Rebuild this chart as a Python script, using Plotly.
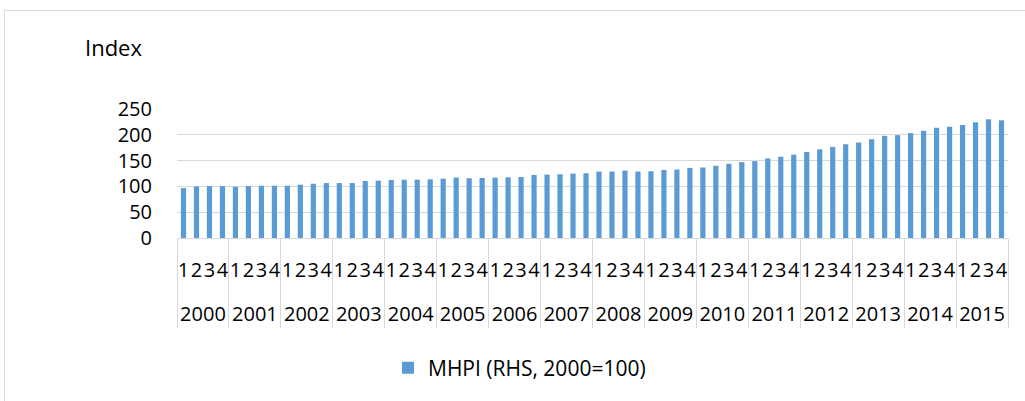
import plotly.graph_objects as go

years = [str(y) for y in range(2000, 2016)]
quarters = ["1", "2", "3", "4"]
mhpi = [
    96.7, 100.0, 100.7, 100.7,
    99.3, 100.7, 101.3, 101.3,
    101.3, 103.3, 105.2, 106.5,
    106.5, 106.5, 110.5, 111.1,
    112.4, 113.1, 113.1, 113.7,
    115.0, 117.0, 115.7, 116.3,
    117.0, 117.6, 118.3, 122.2,
    122.9, 123.5, 124.8, 125.5,
    128.8, 128.8, 130.7, 128.8,
    129.4, 132.0, 132.7, 135.9,
    136.6, 139.9, 143.8, 147.1,
    149.0, 154.2, 157.5, 161.4,
    166.7, 171.9, 176.5, 181.7,
    185.0, 191.5, 198.0, 199.3,
    203.3, 207.8, 213.7, 215.7,
    219.0, 224.2, 230.0, 228.1,
]
y_ticks = [0, 50, 100, 150, 200, 250]
series_name = "MHPI (RHS, 2000=100)"

# invisible tall spacer so the year row sits lower (as in the reference)
SP = "<span style='font-size:44px;color:rgba(0,0,0,0)'>&nbsp;</span>"
x_outer = [y for y in years for _ in quarters]
x_inner = [SP + q + SP for _ in years for q in quarters]

FONT = "Open Sans"
GRID = "#d9d9d9"

fig = go.Figure()
fig.add_trace(go.Bar(
    x=[x_outer, x_inner], y=mhpi, name=series_name,
    marker=dict(color="#5B9BD5", line=dict(width=0)),
    showlegend=True,
))

W, H = 1025, 401
L, T = 177, 109
R = W - 1008
B = H - 238
pw, ph = W - L - R, H - T - B

def px(x):
    return (x - L) / pw

def py(y):
    return (H - B - y) / ph

fig.update_layout(
    width=W, height=H,
    margin=dict(l=L, r=R, t=T, b=B, autoexpand=False),
    paper_bgcolor="white", plot_bgcolor="white",
    bargap=0.6,
    font=dict(family=FONT, size=20, color="black"),
    showlegend=True,
    legend=dict(
        x=px(388), y=py(368), xanchor="left", yanchor="middle",
        orientation="h", font=dict(family=FONT, size=21, color="black"),
        bgcolor="rgba(0,0,0,0)",
    ),
    xaxis=dict(
        type="multicategory", automargin=False,
        showgrid=False, showline=False, zeroline=False,
        showdividers=True, dividercolor=GRID, dividerwidth=1.3,
        tickfont=dict(family=FONT, size=20, color="black"),
        ticks="", ticklabelstandoff=18,
        tickangle=0, tickmode="linear", tick0=0, dtick=1,
    ),
    yaxis=dict(
        automargin=False,
        range=[0, 250], tickvals=y_ticks, showgrid=True, gridcolor=GRID,
        gridwidth=1.3, zeroline=True, zerolinecolor=GRID, zerolinewidth=1.3,
        showline=False, ticks="", ticklabelstandoff=24,
        tickfont=dict(family=FONT, size=20, color="black"),
    ),
    annotations=[dict(
        text="Index", xref="paper", yref="paper", x=px(83), y=py(47),
        xanchor="left", yanchor="middle", showarrow=False,
        font=dict(family=FONT, size=22, color="black"),
    )],
    shapes=[dict(
        type="rect", xref="paper", yref="paper",
        x0=px(4.5), x1=px(1060), y0=py(440), y1=py(10.5),
        line=dict(color=GRID, width=1), fillcolor="rgba(0,0,0,0)", layer="below",
    )],
)

fig.write_html(
    "out.html",
    config={"displayModeBar": False},
    post_script="document.body.style.margin='0';document.body.style.overflow='hidden';",
)
